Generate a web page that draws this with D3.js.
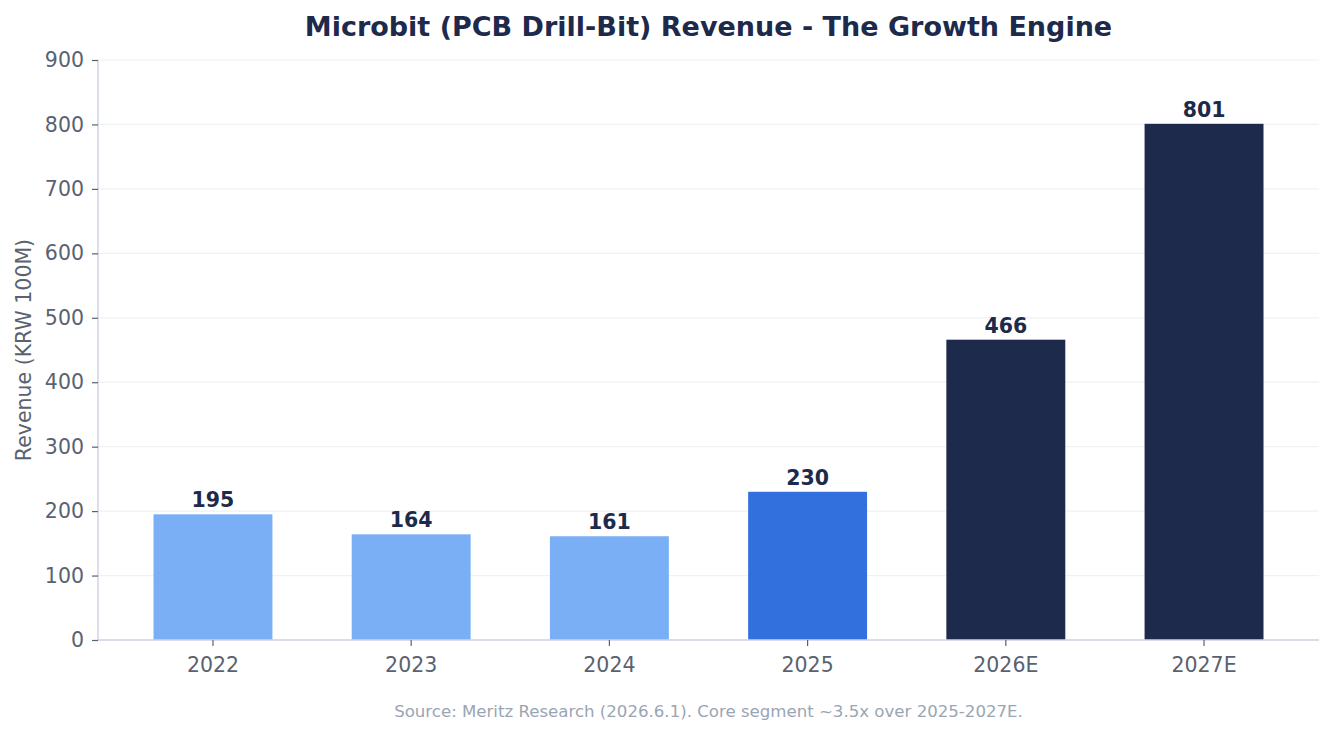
<!DOCTYPE html>
<html lang="en">
<head>
<meta charset="UTF-8">
<title>Microbit Revenue</title>
<script src="https://cdn.jsdelivr.net/npm/d3@7/dist/d3.min.js"></script>
<style>
  body { margin: 0; background: #fff; }
  svg text { font-family: "DejaVu Sans", sans-serif; }
</style>
</head>
<body>
<div id="chart"></div>
<script>
// data
const years = ["2022", "2023", "2024", "2025", "2026E", "2027E"]
const revenue = [195, 164, 161, 230, 466, 801]
const barColors = ["#7aaff5", "#7aaff5", "#7aaff5", "#3170dd", "#1d2a4b", "#1d2a4b"]
const yTicks = [0, 100, 200, 300, 400, 500, 600, 700, 800, 900]

const W = 1334, H = 735
const m = {left: 98, right: 15, top: 60, bottom: 95}
const iw = W - m.left - m.right, ih = H - m.top - m.bottom

const svg = d3.select('#chart').append('svg').attr('width', W).attr('height', H)

const x = d3.scaleBand().domain(years).range([0, iw]).paddingInner(0.4).paddingOuter(0.28)
const y = d3.scaleLinear().domain([0, 900]).range([ih, 0])

const g = svg.append('g').attr('transform', `translate(${m.left},${m.top})`)

// grid
g.append('g').selectAll('line').data(yTicks).join('line')
  .attr('x1', 0).attr('x2', iw)
  .attr('y1', d => y(d)).attr('y2', d => y(d))
  .attr('stroke', '#eef1f5').attr('stroke-width', 1.2)

// bars
g.append('g').selectAll('rect').data(revenue).join('rect')
  .attr('x', (d, i) => x(years[i])).attr('width', x.bandwidth())
  .attr('y', d => y(d)).attr('height', d => ih - y(d))
  .attr('fill', (d, i) => barColors[i])

// value labels
g.append('g').selectAll('text').data(revenue).join('text')
  .attr('x', (d, i) => x(years[i]) + x.bandwidth() / 2)
  .attr('y', d => y(d) - 7)
  .attr('text-anchor', 'middle')
  .attr('font-size', 20.5).attr('font-weight', 'bold').attr('fill', '#1d2a4b')
  .text(d => d)

// axes
const yAxis = g.append('g').call(d3.axisLeft(y).tickValues(yTicks).tickSize(6).tickPadding(8))
const xAxis = g.append('g').attr('transform', `translate(0,${ih})`)
  .call(d3.axisBottom(x).tickSize(6).tickPadding(11))
;[yAxis, xAxis].forEach(a => {
  a.select('.domain').attr('stroke', '#d0d5de').attr('stroke-width', 1.5)
  a.selectAll('.tick line').attr('stroke', '#5a6270').attr('stroke-width', 1.2)
  a.selectAll('.tick text').attr('font-size', 20.5).attr('fill', '#5a6270')
    .attr('font-family', '"DejaVu Sans", sans-serif')
})
yAxis.select('.domain').attr('d', `M0,${ih}V0`)
xAxis.select('.domain').attr('d', `M0,0H${iw}`)

// title
svg.append('text').attr('x', m.left + iw / 2).attr('y', 36)
  .attr('text-anchor', 'middle').attr('font-size', 27).attr('font-weight', 'bold')
  .attr('fill', '#1d2a4b').text('Microbit (PCB Drill-Bit) Revenue - The Growth Engine')

// y label
svg.append('text').attr('transform', `translate(31,${m.top + ih / 2}) rotate(-90)`)
  .attr('text-anchor', 'middle').attr('font-size', 20.5).attr('fill', '#5a6270')
  .text('Revenue (KRW 100M)')

// source note
svg.append('text').attr('x', m.left + iw / 2).attr('y', 717)
  .attr('text-anchor', 'middle').attr('font-size', 16.6).attr('fill', '#9aa5b4')
  .text('Source: Meritz Research (2026.6.1). Core segment ~3.5x over 2025-2027E.')
</script>
</body>
</html>
